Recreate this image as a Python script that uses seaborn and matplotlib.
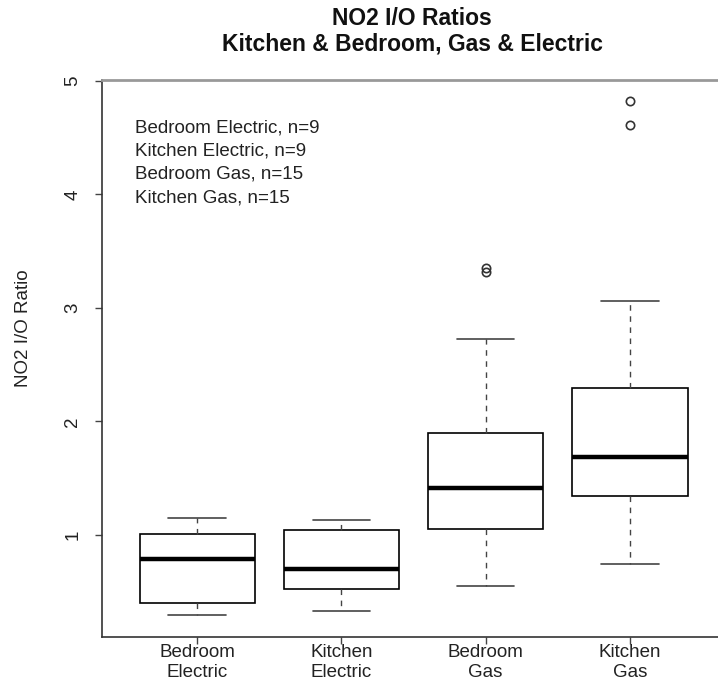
import pandas as pd
import matplotlib
matplotlib.use("Agg")
import matplotlib.pyplot as plt
import seaborn as sns

# sample values (quartiles / whiskers / outliers)
bedroom_electric = [0.29, 0.35, 0.40, 0.62, 0.79, 0.92, 1.01, 1.08, 1.15]
kitchen_electric = [0.33, 0.45, 0.52, 0.61, 0.70, 0.88, 1.04, 1.10, 1.13]
bedroom_gas = [0.55, 0.78, 0.95, 1.02, 1.08, 1.20, 1.32, 1.41, 1.52, 1.70,
               1.85, 1.95, 2.73, 3.32, 3.35]
kitchen_gas = [0.74, 0.98, 1.20, 1.30, 1.38, 1.50, 1.60, 1.69, 1.85, 2.05,
               2.22, 2.36, 3.06, 4.61, 4.82]

groups = ["Bedroom\nElectric", "Kitchen\nElectric", "Bedroom\nGas", "Kitchen\nGas"]
legend_lines = ["Bedroom Electric, n=9", "Kitchen Electric, n=9",
                "Bedroom Gas, n=15", "Kitchen Gas, n=15"]

df = pd.concat([
    pd.DataFrame({"group": groups[0], "ratio": bedroom_electric}),
    pd.DataFrame({"group": groups[1], "ratio": kitchen_electric}),
    pd.DataFrame({"group": groups[2], "ratio": bedroom_gas}),
    pd.DataFrame({"group": groups[3], "ratio": kitchen_gas}),
])

sns.set_style("white")
plt.rcParams["font.family"] = ["Liberation Sans", "DejaVu Sans"]
fs = 13.5

fig = plt.figure(figsize=(7.18, 6.82), dpi=100)
# right edge of the plot box falls just outside the picture, as in the original
ax = fig.add_axes([0.1421, 0.066, 0.8677, 0.817])

sns.boxplot(data=df, x="group", y="ratio", order=groups, ax=ax,
            color="white", linecolor="black", linewidth=1.2, width=0.8,
            whis=1.5,
            whiskerprops=dict(linestyle=(0, (4, 4)), linewidth=1.0, color="#444444"),
            capprops=dict(linewidth=1.2, color="#444444"),
            medianprops=dict(linewidth=3.2, color="black"),
            flierprops=dict(marker="o", markersize=6, markerfacecolor="none",
                            markeredgecolor="#333333", markeredgewidth=1.2))

ax.set_xlim(-0.66, 3.66)
ax.set_ylim(0.10, 5.01)
ax.set_yticks([1, 2, 3, 4, 5])
ax.set_yticklabels(["1", "2", "3", "4", "5"], rotation=90, va="center")
ax.tick_params(axis="both", direction="out", length=5, width=1, color="#444444",
               left=True, bottom=True, labelsize=fs, labelcolor="#222222")
ax.tick_params(axis="x", pad=0)
ax.tick_params(axis="y", pad=10)
ax.set_xlabel("")
ax.set_ylabel("NO2 I/O Ratio", fontsize=fs, color="#222222")
ax.yaxis.set_label_coords(-0.112, 0.555)

for side in ["left", "bottom"]:
    ax.spines[side].set_color("#333333")
    ax.spines[side].set_linewidth(1.2)
ax.spines["top"].set_color("#999999")
ax.spines["top"].set_linewidth(2)
ax.spines["right"].set_visible(False)

for i, line in enumerate(legend_lines):
    ax.text(0.053, 0.914 - i * 0.0418, line, transform=ax.transAxes,
            fontsize=fs, va="center", ha="left", color="#222222")

fig.text(0.574, 0.954, "NO2 I/O Ratios\nKitchen & Bedroom, Gas & Electric",
         ha="center", va="center", fontsize=16.5, fontweight="bold",
         linespacing=1.18, color="#111111")

fig.savefig("out.png", dpi=100)
